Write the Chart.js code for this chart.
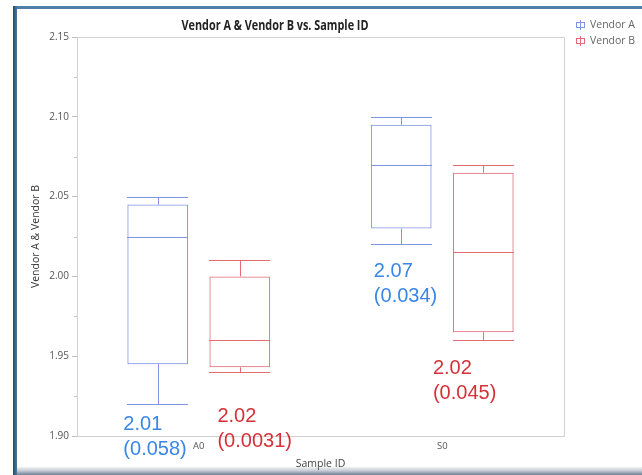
<!DOCTYPE html>
<html>
<head>
<meta charset="utf-8">
<title>Vendor A &amp; Vendor B vs. Sample ID</title>
<script src="https://cdn.jsdelivr.net/npm/chart.js@4.4.1/dist/chart.umd.min.js"></script>
<style>
  html, body { margin: 0; padding: 0; background: #fff; }
  canvas { display: block; }
</style>
</head>
<body>
<canvas id="chart" width="642" height="475"></canvas>
<script>
// Sample groups on the x axis
const categories = ['A0', 'S0'];

// Five-number summaries per vendor (min, Q1, median, Q3, max)
const vendorAMin    = [1.920, 2.020];
const vendorAQ1     = [1.945, 2.030];
const vendorAMedian = [2.025, 2.070];
const vendorAQ3     = [2.045, 2.095];
const vendorAMax    = [2.050, 2.100];

const vendorBMin    = [1.940, 1.960];
const vendorBQ1     = [1.943, 1.965];
const vendorBMedian = [1.960, 2.015];
const vendorBQ3     = [2.000, 2.065];
const vendorBMax    = [2.010, 2.070];

// Mean and standard deviation notes
const vendorAMean = ['2.01', '2.07'];
const vendorASd   = ['0.058', '0.034'];
const vendorBMean = ['2.02', '2.02'];
const vendorBSd   = ['0.0031', '0.045'];

// Value axis
const yMin = 1.90;
const yMax = 2.15;
const yStep = 0.05;

const BLUE_BOX = '#7f95e4';
const RED_BOX = '#e46a76';
const BLUE_TEXT = '#3a86e6';
const RED_TEXT = '#d6303a';

const boxDatasets = [
  { label: 'Vendor A', min: vendorAMin, q1: vendorAQ1, median: vendorAMedian, q3: vendorAQ3, max: vendorAMax,
    mean: vendorAMean, sd: vendorASd, color: BLUE_BOX, noteColor: BLUE_TEXT },
  { label: 'Vendor B', min: vendorBMin, q1: vendorBQ1, median: vendorBMedian, q3: vendorBQ3, max: vendorBMax,
    mean: vendorBMean, sd: vendorBSd, color: RED_BOX, noteColor: RED_TEXT }
];

// Where each mean/sd note sits: offset from the box's left edge, first baseline in axis units
const notePlacement = [
  [{ dx: -4, y: 1.9035 }, { dx: 3, y: 1.9996 }],
  [{ dx: 8, y: 1.9085 }, { dx: -20, y: 1.9390 }]
];

const crisp = v => Math.round(v) + 0.5;

// Page frame, plot frame, minor ticks
const framePlugin = {
  id: 'frame',
  beforeDraw(chart) {
    const c = chart.ctx;
    c.save();
    c.fillStyle = '#ffffff';
    c.fillRect(0, 0, chart.width, chart.height);
    // window edge lines
    c.fillStyle = '#4f7fa6';
    c.fillRect(14, 6, chart.width - 14, 3);
    const lg = c.createLinearGradient(13, 0, 18, 0);
    lg.addColorStop(0, '#24496b');
    lg.addColorStop(1, '#5d84a6');
    c.fillStyle = lg;
    c.fillRect(13, 6, 4, chart.height - 6);
    const bg = c.createLinearGradient(0, 467, 0, 475);
    bg.addColorStop(0, '#f2f2f4');
    bg.addColorStop(0.45, '#c9ccd6');
    bg.addColorStop(1, '#6b8097');
    c.fillStyle = bg;
    c.fillRect(17, 467, chart.width - 17, 8);
    c.restore();
  },
  beforeDatasetsDraw(chart) {
    const { ctx: c, chartArea: a } = chart;
    const y = chart.scales.y;
    c.save();
    c.strokeStyle = '#d2d2d2';
    c.lineWidth = 1;
    c.strokeRect(crisp(a.left), crisp(a.top), Math.round(a.right - a.left), Math.round(a.bottom - a.top));
    c.strokeStyle = '#c4c4c4';
    c.beginPath();
    for (let v = yMin + yStep / 2; v < yMax; v += yStep) {
      const py = crisp(y.getPixelForValue(v));
      c.moveTo(a.left - 3, py);
      c.lineTo(a.left, py);
    }
    c.stroke();
    c.restore();
  }
};

// Whiskers, caps and median lines on top of the floating-bar boxes
const boxPlotPlugin = {
  id: 'boxplot',
  afterDatasetsDraw(chart) {
    const c = chart.ctx;
    const y = chart.scales.y;
    c.save();
    c.lineWidth = 1;
    boxDatasets.forEach((ds, di) => {
      const meta = chart.getDatasetMeta(di);
      c.strokeStyle = ds.color;
      meta.data.forEach((bar, i) => {
        const half = bar.width / 2;
        const l = Math.round(bar.x - half), r = Math.round(bar.x + half);
        const cx = crisp(bar.x);
        const pMin = crisp(y.getPixelForValue(ds.min[i]));
        const pMax = crisp(y.getPixelForValue(ds.max[i]));
        const pQ1 = y.getPixelForValue(ds.q1[i]);
        const pQ3 = y.getPixelForValue(ds.q3[i]);
        const pMed = crisp(y.getPixelForValue(ds.median[i]));
        c.beginPath();
        c.moveTo(cx, pQ3); c.lineTo(cx, pMax);
        c.moveTo(cx, pQ1); c.lineTo(cx, pMin);
        c.moveTo(l, pMax); c.lineTo(r, pMax);
        c.moveTo(l, pMin); c.lineTo(r, pMin);
        c.moveTo(l, pMed); c.lineTo(r, pMed);
        c.stroke();
      });
    });
    c.restore();
  },
  afterDraw(chart) {
    const c = chart.ctx;
    const y = chart.scales.y;
    c.save();
    // mean (sd) notes
    c.font = '20px "Liberation Sans", Arial, sans-serif';
    c.textAlign = 'left';
    c.textBaseline = 'alphabetic';
    boxDatasets.forEach((ds, di) => {
      const meta = chart.getDatasetMeta(di);
      c.fillStyle = ds.noteColor;
      meta.data.forEach((bar, i) => {
        const p = notePlacement[di][i];
        const x = bar.x - bar.width / 2 + p.dx;
        const by = y.getPixelForValue(p.y);
        c.fillText(ds.mean[i], x, by);
        c.fillText('(' + ds.sd[i] + ')', x, by + 25);
      });
    });

    // chart title
    const title = 'Vendor A & Vendor B vs. Sample ID';
    c.font = 'bold 14px "Open Sans", sans-serif';
    const w = c.measureText(title).width;
    const target = 187;
    c.fillStyle = '#222';
    c.textAlign = 'center';
    c.translate(275, 30);
    c.scale(target / w, 1);
    c.fillText(title, 0, 0);
    c.setTransform(1, 0, 0, 1, 0, 0);

    // legend
    c.font = '10.5px "Open Sans", sans-serif';
    c.textAlign = 'left';
    c.textBaseline = 'middle';
    boxDatasets.forEach((ds, di) => {
      const cy = 25 + di * 16;
      c.strokeStyle = ds.color;
      c.lineWidth = 1;
      c.strokeRect(576.5, cy - 2.5, 8, 5);
      c.beginPath();
      c.moveTo(580.5, cy - 5);
      c.lineTo(580.5, cy + 5);
      c.stroke();
      c.fillStyle = '#666';
      c.fillText(ds.label, 590, cy);
    });
    c.restore();
  }
};

new Chart(document.getElementById('chart'), {
  type: 'bar',
  data: {
    labels: categories,
    datasets: boxDatasets.map(ds => ({
      label: ds.label,
      data: categories.map((_, i) => [ds.q1[i], ds.q3[i]]),
      backgroundColor: 'rgba(255,255,255,0)',
      borderColor: ds.color,
      borderWidth: 1,
      borderSkipped: false
    }))
  },
  options: {
    responsive: false,
    animation: false,
    devicePixelRatio: 1,
    categoryPercentage: 0.674,
    barPercentage: 0.74,
    layout: { padding: { left: 18, right: 78, top: 37, bottom: 1 } },
    plugins: {
      legend: { display: false },
      title: { display: false },
      tooltip: { enabled: false }
    },
    scales: {
      x: {
        afterFit: s => { s.height = 38; },
        grid: { display: false, tickLength: 0 },
        border: { display: false },
        ticks: { color: '#555', font: { size: 9.5, family: '"Open Sans", sans-serif' }, padding: 5 },
        title: { display: true, text: 'Sample ID', color: '#444',
                 font: { size: 10.5, family: '"Open Sans", sans-serif' }, padding: { top: 3, bottom: 4 } }
      },
      y: {
        min: yMin,
        max: yMax,
        afterFit: s => { s.width = 59; },
        ticks: {
          stepSize: yStep,
          color: '#555',
          padding: 3,
          font: { size: 10, family: '"Open Sans", sans-serif' },
          callback: v => Number(v).toFixed(2)
        },
        grid: { drawOnChartArea: false, tickLength: 5, color: '#bdbdbd' },
        border: { display: false },
        title: { display: true, text: 'Vendor A & Vendor B', color: '#333',
                 font: { size: 10.5, family: '"Open Sans", sans-serif' }, padding: { top: 12, bottom: 0 } }
      }
    }
  },
  plugins: [framePlugin, boxPlotPlugin]
});
</script>
</body>
</html>
